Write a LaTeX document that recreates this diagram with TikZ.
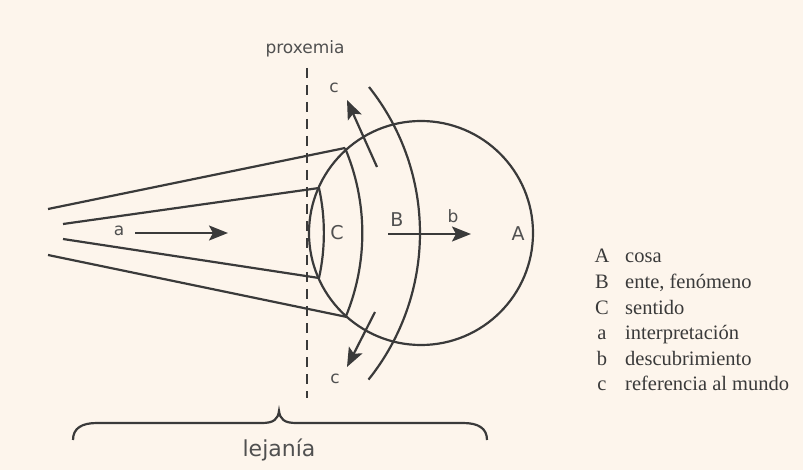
\documentclass[tikz,border=0pt]{standalone}
\usepackage{fontspec}
\setmainfont{Liberation Serif}
\newfontfamily\lblfont{DejaVu Sans}
\usetikzlibrary{arrows.meta}
\definecolor{paper}{HTML}{FDF5EC}
\definecolor{ink}{HTML}{3A3A3A}
\definecolor{lblgray}{HTML}{505050}
\tikzset{
  stroke/.style={draw=ink, line width=2.2pt},
  arr/.style={stroke, -{Stealth[length=19pt,width=15pt,inset=4pt]}},
  lbl/.style={text=lblgray, inner sep=0pt, font=\lblfont\fontsize{17}{17}\selectfont},
  biglbl/.style={lbl, font=\lblfont\fontsize{19}{19}\selectfont},
  keyletter/.style={anchor=base, inner sep=0pt, text=ink, font=\fontsize{20.5}{20.5}\selectfont},
  keytext/.style={anchor=base west, inner sep=0pt, text=ink, font=\fontsize{20.5}{20.5}\selectfont}
}
\begin{document}
\begin{tikzpicture}[x=1pt,y=-1pt]
  \fill[paper] (0,0) rectangle (803,470);
  \useasboundingbox (0,0) rectangle (803,470);
  \coordinate (eye) at (421,233);
  \coordinate (t1) at (48,209);
  \coordinate (t2) at (345,148);
  \coordinate (u1) at (63,224);
  \coordinate (u2) at (319,188);
  \coordinate (v1) at (63,239);
  \coordinate (v2) at (319,278);
  \coordinate (w1) at (48,255);
  \coordinate (w2) at (347,317);
  \coordinate (rim) at (369,87);
  \draw[stroke] (eye) circle[radius=112];
  \draw[stroke] (t1) -- (t2);
  \draw[stroke] (u1) -- (u2);
  \draw[stroke] (v1) -- (v2);
  \draw[stroke] (w1) -- (w2);
  \draw[stroke] (u2) arc[start angle=-12.38, end angle=12.38, radius=209.9];
  \draw[stroke] (t2) arc[start angle=-22.97, end angle=22.5, radius=218.5];
  \draw[stroke] (rim) arc[start angle=-38.5, end angle=38.7, radius=234.5];
  \coordinate (px0) at (307,68);
  \coordinate (px1) at (307,398);
  \draw[ink, line width=2.2pt, dash pattern=on 10pt off 7pt] (px0) -- (px1);
  \node[lbl] (proxemia) at (305,49) {proxemia};
  \coordinate (a0) at (135,233);
  \coordinate (a1) at (228,233);
  \draw[arr] (a0) -- (a1);
  \node[lbl] (la) at (119,231) {a};
  \coordinate (b0) at (388,234);
  \coordinate (b1) at (471,234);
  \draw[arr] (b0) -- (b1);
  \node[lbl] (lb) at (453,216) {b};
  \node[biglbl] (lB) at (397,220) {B};
  \node[biglbl] (lC) at (337,233) {C};
  \node[biglbl] (lA) at (518,234) {A};
  \coordinate (c0) at (377,167);
  \coordinate (c1) at (347,100);
  \draw[arr] (c0) -- (c1);
  \node[lbl] (lc1) at (334,88) {c};
  \coordinate (d0) at (375,312);
  \coordinate (d1) at (347,367);
  \draw[arr] (d0) -- (d1);
  \node[lbl] (lc2) at (335,379) {c};
  \coordinate (br0) at (73,440);
  \coordinate (br1) at (279,411);
  \coordinate (br2) at (487,440);
  \draw[stroke] (br0) .. controls (73,428) and (82,423) .. (97,423) -- (262,423)
    .. controls (274,423) and (278,419) .. (br1)
    .. controls (280,419) and (284,423) .. (296,423) -- (463,423)
    .. controls (478,423) and (487,428) .. (br2);
  \node[lbl, font=\lblfont\fontsize{22}{22}\selectfont] (lejania) at (279,450) {lejanía};
  \node[keyletter] (kA) at (602,263) {A};
  \node[keytext] (kAtxt) at (625,263) {cosa};
  \node[keyletter] (kB) at (602,288.5) {B};
  \node[keytext] (kBtxt) at (625,288.5) {ente, fenómeno};
  \node[keyletter] (kC) at (602,314) {C};
  \node[keytext] (kCtxt) at (625,314) {sentido};
  \node[keyletter] (ka) at (602,339.5) {a};
  \node[keytext] (katxt) at (625,339.5) {interpretación};
  \node[keyletter] (kb) at (602,365) {b};
  \node[keytext] (kbtxt) at (625,365) {descubrimiento};
  \node[keyletter] (kc) at (602,390.5) {c};
  \node[keytext] (kctxt) at (625,390.5) {referencia al mundo};
\end{tikzpicture}
\end{document}
